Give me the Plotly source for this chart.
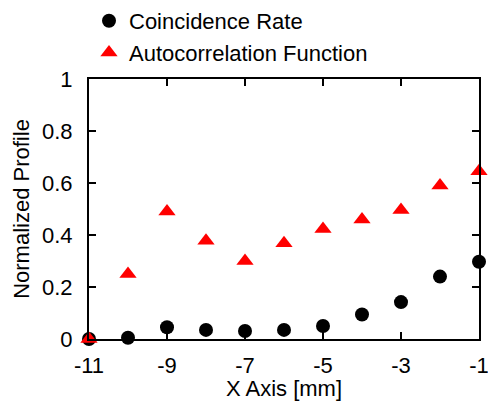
import plotly.graph_objects as go

x_vals = [-11, -10, -9, -8, -7, -6, -5, -4, -3, -2, -1]
coincidence = [0.0, 0.005, 0.045, 0.035, 0.031, 0.035, 0.05, 0.094, 0.142, 0.24, 0.297]
autocorr = [0.0, 0.25, 0.49, 0.378, 0.30, 0.368, 0.423, 0.46, 0.496, 0.59, 0.645]
x_ticks = [-11, -9, -7, -5, -3, -1]
y_ticks = [0, 0.2, 0.4, 0.6, 0.8, 1]

font = dict(family="Liberation Sans, Arial", size=22, color="black")

fig = go.Figure()
fig.add_trace(go.Scatter(x=x_vals, y=coincidence, mode="markers", name="Coincidence Rate",
                         marker=dict(symbol="circle", size=14, color="black"), cliponaxis=False))
fig.add_trace(go.Scatter(x=x_vals, y=autocorr, mode="markers", name="Autocorrelation Function",
                         marker=dict(symbol="triangle-up", size=15, color="red"), cliponaxis=False))

axis_common = dict(showline=True, linecolor="black", linewidth=2, mirror="ticks",
                   ticks="inside", ticklen=7, tickwidth=1.5, tickcolor="black",
                   showgrid=False, zeroline=False, tickfont=font)

fig.update_layout(
    width=488, height=401,
    margin=dict(l=89, r=9, t=79, b=62, autoexpand=False),
    paper_bgcolor="white", plot_bgcolor="white",
    font=font,
    showlegend=True,
    legend=dict(x=0.0, y=1.0, xref="paper", yref="container", xanchor="left", yanchor="top",
                font=font, bgcolor="rgba(0,0,0,0)", itemwidth=30, tracegroupgap=0),
    xaxis=dict(range=[-11, -1], tickvals=x_ticks, ticktext=[str(v) for v in x_ticks],
               ticklabelstandoff=6, ticklabeloverflow="allow",
               title=dict(text="X Axis [mm]", font=font, standoff=0), **axis_common),
    yaxis=dict(range=[0, 1], tickvals=y_ticks, ticktext=["0", "0.2", "0.4", "0.6", "0.8", "1"],
               ticklabelstandoff=10,
               title=dict(text="Normalized Profile", font=font, standoff=6), **axis_common),
)

fig.write_html("out.html")
